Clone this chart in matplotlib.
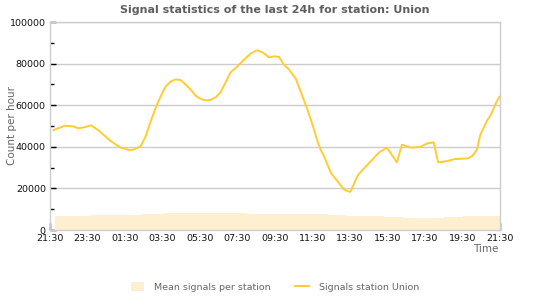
import matplotlib
matplotlib.use("Agg")
import matplotlib.pyplot as plt
import numpy as np

# ---- data ----
line_times = ["21:41", "21:44", "22:16", "22:45", "23:01", "23:17", "23:42", "00:05", "00:21", "00:43",
              "00:59", "01:15", "01:31", "01:45", "02:01", "02:20", "02:36", "02:52", "03:08", "03:24",
              "03:40", "03:56", "04:12", "04:28", "04:44", "05:00", "05:16", "05:32", "05:48", "06:04",
              "06:20", "06:36", "06:52", "07:08", "07:30", "07:51", "08:12", "08:32", "08:50", "09:11",
              "09:27", "09:43", "09:57", "10:15", "10:37", "10:58", "11:14", "11:30", "11:46", "11:56",
              "12:07", "12:29", "12:50", "13:11", "13:31", "13:56", "14:26", "15:03", "15:28", "16:00",
              "16:16", "16:45", "17:14", "17:40", "17:58", "18:12", "18:43", "19:04", "19:46", "20:02",
              "20:16", "20:27", "20:50", "21:01", "21:17", "21:28"]
line_values = [48000, 48200, 50100, 49800, 48900, 49300, 50300, 47900, 45800, 42900,
               41300, 39700, 39100, 38300, 38900, 40200, 45000, 52200, 58700, 64200,
               69000, 71400, 72400, 72100, 69900, 67500, 64600, 63000, 62300, 62500,
               63800, 66200, 71000, 75800, 78700, 81900, 84800, 86400, 85400, 83000,
               83500, 83200, 79800, 77100, 72600, 64200, 57800, 50600, 42600, 38600,
               35400, 27400, 23400, 19400, 18300, 26600, 31400, 37300, 39600, 32500,
               41000, 39600, 39900, 41800, 42100, 32500, 33200, 34100, 34400, 35700,
               38600, 45800, 53000, 55500, 61000, 64000]

mean_edges = ["21:45", "23:42", "02:24", "03:30", "08:00", "12:18", "13:18", "15:18",
              "16:18", "18:30", "19:30", "21:30"]
mean_values = [6900, 7400, 7900, 8200, 7900, 7200, 6900, 6400, 5900, 6400, 6900]

x_tick_labels = ["21:30", "23:30", "01:30", "03:30", "05:30", "07:30", "09:30",
                 "11:30", "13:30", "15:30", "17:30", "19:30", "21:30"]
y_ticks = [0, 20000, 40000, 60000, 80000, 100000]

title = "Signal statistics of the last 24h for station: Union"


def to_h(s):
    hh, mm = map(int, s.split(":"))
    h = hh + mm / 60 - 21.5
    if h < 0:
        h += 24
    return h


lx = [to_h(t) for t in line_times]
mx = [to_h(t) for t in mean_edges]
mx[-1] = 24.0

LINE_C = "#FFCC33"
AREA_C = "#FDEFCF"
GRID_C = "#CCCCCC"
TEXT_C = "#111111"
GRAY_T = "#666666"

fig = plt.figure(figsize=(5.5, 3.0), dpi=100)
ax = fig.add_axes([50 / 550, 1 - 230 / 300, 450 / 550, 208 / 300])

# mean area (step)
ys = list(mean_values) + [mean_values[-1]]
ax.fill_between(mx, ys, step="post", color=AREA_C, linewidth=0, zorder=1,
                label="Mean signals per station")
ax.plot(lx, line_values, color=LINE_C, linewidth=1.4, zorder=3,
        label="Signals station Union")

ax.set_xlim(0, 24)
ax.set_ylim(0, 100000)

ax.set_xticks(np.arange(0, 25, 2))
ax.set_xticklabels(x_tick_labels)
ax.set_xticks(np.arange(0, 24.01, 0.5), minor=True)
ax.set_yticks(y_ticks)
ax.set_yticklabels([str(v) for v in y_ticks])
ax.set_yticks(np.arange(0, 100001, 10000), minor=True)

ax.tick_params(axis="both", which="major", direction="in", length=4, width=1,
               color="#000000", labelsize=6.8, labelcolor=TEXT_C, pad=3)
ax.tick_params(axis="both", which="minor", direction="in", length=3, width=1,
               color="#000000")
ax.tick_params(axis="x", which="major", length=5)

ax.grid(axis="y", which="major", color=GRID_C, linewidth=1, zorder=0)
ax.set_axisbelow(True)
for s in ax.spines.values():
    s.set_color(GRID_C)
    s.set_linewidth(1)

fig.text(275 / 550, 1 - 10 / 300, title, ha="center", va="center",
         fontsize=8, fontweight="bold", color="#5e5e5e")
fig.text(12 / 550, 1 - 126 / 300, "Count per hour", rotation=90, ha="center",
         va="center", fontsize=7.5, color=GRAY_T)
fig.text(498 / 550, 1 - 249 / 300, "Time", ha="right", va="center",
         fontsize=7.5, color=GRAY_T)

leg = fig.legend(loc="center", bbox_to_anchor=(275 / 550, 1 - 287 / 300), ncol=2,
                 frameon=False, fontsize=6.8, handlelength=1.4, handleheight=1.0,
                 columnspacing=2.6, handletextpad=1.1, labelcolor=GRAY_T)

fig.savefig("out.png", dpi=100)
